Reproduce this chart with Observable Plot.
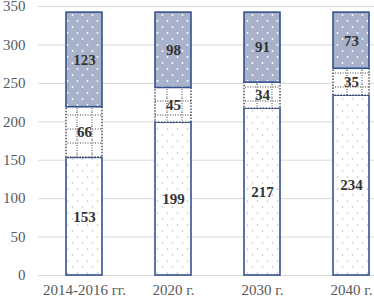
<!DOCTYPE html>
<html>
<head>
<meta charset="utf-8">
<script src="https://cdn.jsdelivr.net/npm/d3@7"></script>
<script src="https://cdn.jsdelivr.net/npm/@observablehq/plot@0.6"></script>
<style>
  html, body { margin: 0; padding: 0; background: #fff; }
  #chart svg { display: block; }
</style>
</head>
<body>
<div id="chart"></div>
<script>
const categories = ["2014-2016 гг.", "2020 г.", "2030 г.", "2040 г."];
const seriesNames = ["bottom", "middle", "top"];
const bottomValues = [153, 199, 217, 234];
const middleValues = [66, 45, 34, 35];
const topValues = [123, 98, 91, 73];
const yTicks = [0, 50, 100, 150, 200, 250, 300, 350];

const seriesValues = [bottomValues, middleValues, topValues];
const data = [];
seriesNames.forEach((s, si) => {
  categories.forEach((c, ci) => {
    data.push({category: c, series: s, value: seriesValues[si][ci]});
  });
});

const font = "'Liberation Serif', 'Times New Roman', serif";
const blue = "#34528f";

const plot = Plot.plot({
  width: 374,
  height: 301,
  marginTop: 6,
  marginBottom: 26,
  marginLeft: 38,
  marginRight: -23,
  style: {fontFamily: font, fontSize: "15px", color: "#595959", background: "#fff"},
  x: {domain: categories, paddingInner: 0.6, paddingOuter: 0.3, label: null, tickSize: 0, tickPadding: 9},
  y: {domain: [0, 350], ticks: yTicks, label: null, tickSize: 0, tickPadding: 13, grid: false},
  color: {domain: seriesNames, range: ["url(#pBottom)", "url(#pMiddle)", "url(#pTop)"]},
  marks: [
    Plot.ruleY(yTicks, {stroke: "#d9d9d9", strokeWidth: 1}),
    Plot.barY(data, Plot.stackY({
      x: "category", y: "value", fill: "series", z: "series",
      stroke: d => d.series === "middle" ? "#2b3a55" : blue,
      strokeWidth: 1.6,
      order: seriesNames
    })),
    Plot.text(data, Plot.stackY({
      x: "category", y: "value", text: "value", z: "series",
      order: seriesNames,
      fill: "#333333", fontWeight: "bold", fontSize: 15
    }))
  ]
});

// pattern definitions
const svg = d3.select(plot);
const defs = svg.insert("defs", ":first-child");

const pb = defs.append("pattern").attr("id", "pBottom").attr("patternUnits", "userSpaceOnUse")
  .attr("width", 10).attr("height", 12);
pb.append("rect").attr("width", 10).attr("height", 12).attr("fill", "#ffffff");
pb.append("circle").attr("cx", 2.5).attr("cy", 3).attr("r", 0.8).attr("fill", "#b8bcc6");
pb.append("circle").attr("cx", 7.5).attr("cy", 9).attr("r", 0.8).attr("fill", "#b8bcc6");

const pt = defs.append("pattern").attr("id", "pTop").attr("patternUnits", "userSpaceOnUse")
  .attr("width", 10).attr("height", 12);
pt.append("rect").attr("width", 10).attr("height", 12).attr("fill", "#a8b3cb");
pt.append("circle").attr("cx", 2.5).attr("cy", 3).attr("r", 0.9).attr("fill", "#ffffff");
pt.append("circle").attr("cx", 7.5).attr("cy", 9).attr("r", 0.9).attr("fill", "#ffffff");

const pm = defs.append("pattern").attr("id", "pMiddle").attr("patternUnits", "userSpaceOnUse")
  .attr("width", 15).attr("height", 14);
pm.append("rect").attr("width", 15).attr("height", 14).attr("fill", "#ffffff");
pm.append("line").attr("x1", 2).attr("x2", 2).attr("y1", 0).attr("y2", 14)
  .attr("stroke", "#444").attr("stroke-width", 1).attr("stroke-dasharray", "1,1.5");
pm.append("line").attr("x1", 0).attr("x2", 15).attr("y1", 3).attr("y2", 3)
  .attr("stroke", "#444").attr("stroke-width", 1).attr("stroke-dasharray", "1,1.5");

// dotted outline for middle segments
svg.selectAll("g[aria-label='bar'] rect").each(function() {
  const s = d3.select(this);
  if (s.attr("fill") === "url(#pMiddle)") {
    s.attr("stroke-dasharray", "1.5,1.5").attr("stroke-width", 1.3);
  }
});

document.getElementById("chart").appendChild(plot);
</script>
</body>
</html>
